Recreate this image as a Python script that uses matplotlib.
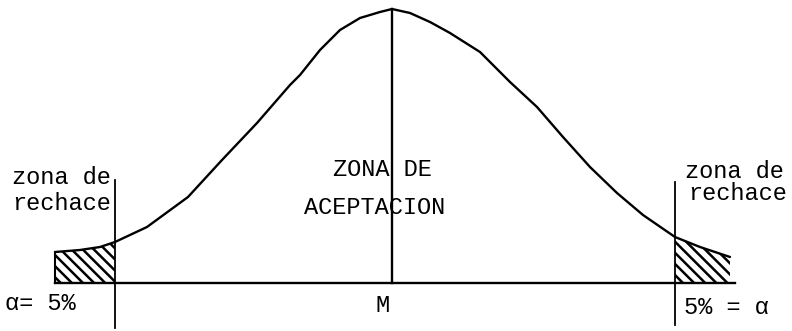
import numpy as np
import matplotlib
matplotlib.use("Agg")
from matplotlib import pyplot as plt

# curve: horizontal position and height above the baseline
curve_x = [55, 80, 100, 115, 147, 188, 222, 257, 290, 300, 320, 340, 360, 380,
           392, 410, 430, 450, 480, 500, 510, 537, 563, 590, 617, 643, 675,
           700, 730]
curve_h = [31, 33, 36, 41, 56, 86, 123, 160, 198, 208, 233, 253, 265, 271,
           274, 270, 261, 250, 231, 211, 201, 176, 146, 116, 90, 68, 46,
           36, 26]

# critical values and mean
x_low = 115
x_high = 675
x_mean = 392
alpha_pct = 5

plt.rcParams['hatch.linewidth'] = 1.8
mono = ['Liberation Mono', 'DejaVu Sans Mono']

fig = plt.figure(figsize=(7.92, 3.31), dpi=100)
ax = fig.add_axes([0, 0, 1, 1])
ax.set_xlim(0, 792)
ax.set_ylim(-48, 283)
ax.axis('off')

cx = np.array(curve_x)
ch = np.array(curve_h)

# the curve and the baseline
ax.plot(cx, ch, color='black', lw=1.7, solid_capstyle='round',
        solid_joinstyle='round')
ax.plot([cx[0], 735], [0, 0], color='black', lw=1.7)

# rejection zones, hatched
left = cx <= x_low
right = cx >= x_high
ax.fill_between(cx[left], 0, ch[left], facecolor='none', edgecolor='black',
                hatch='\\\\\\', linewidth=0)
ax.fill_between(cx[right], 0, ch[right], facecolor='none', edgecolor='black',
                hatch='\\\\\\', linewidth=0)
ax.plot([cx[0], cx[0]], [0, ch[0]], color='black', lw=1.5)

# vertical lines at the critical values and the mean
ax.plot([x_low, x_low], [-45, 103], color='black', lw=1.3)
ax.plot([x_high, x_high], [-42, 101], color='black', lw=1.3)
ax.plot([x_mean, x_mean], [0, ch.max()], color='black', lw=1.7)

# labels
fs = 17
ax.text(12, 105, "zona de", family=mono, fontsize=fs, ha='left', va='center')
ax.text(12, 80, "rechace", family=mono, fontsize=fs, ha='left', va='center')
ax.text(685, 111, "zona de", family=mono, fontsize=fs, ha='left', va='center')
ax.text(688, 90, "rechace", family=mono, fontsize=fs, ha='left', va='center')
ax.text(382, 113, "ZONA DE", family=mono, fontsize=fs, ha='center', va='center')
ax.text(375, 76, "ACEPTACION", family=mono, fontsize=fs, ha='center', va='center')
ax.text(383, -22, "M", family=mono, fontsize=fs, ha='center', va='center')
ax.text(5, -20, "\u03b1= %d%%" % alpha_pct, family=mono, fontsize=fs,
        ha='left', va='center')
ax.text(684, -24, "%d%% = \u03b1" % alpha_pct, family=mono, fontsize=fs,
        ha='left', va='center')

fig.savefig("out.png", dpi=100)
